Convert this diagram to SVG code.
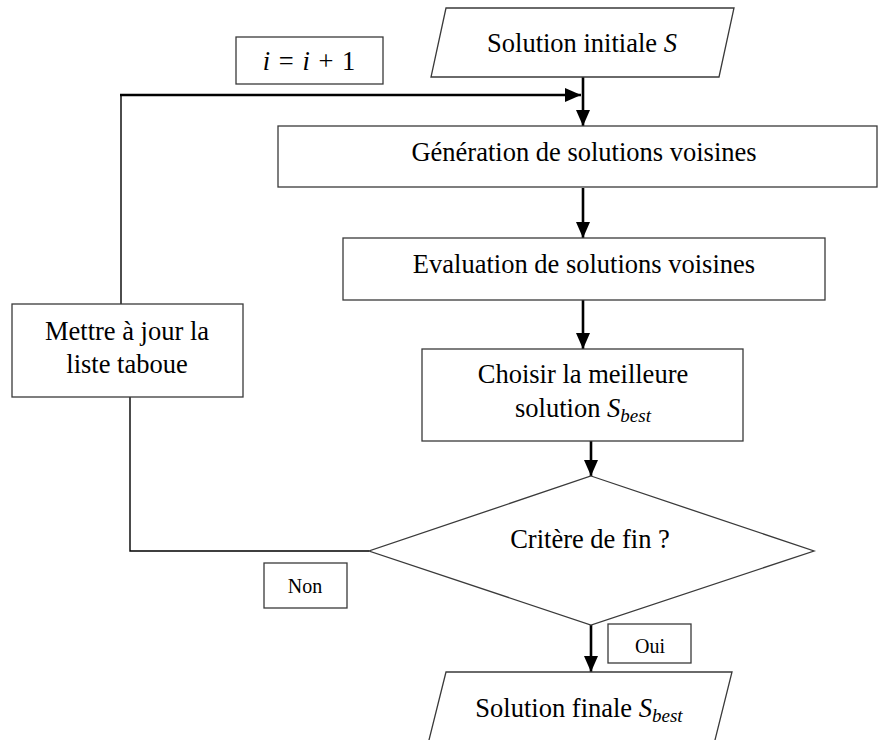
<svg xmlns="http://www.w3.org/2000/svg" width="878" height="740" viewBox="0 0 878 740">
  <style>
    .box { fill: #ffffff; stroke: #3a3a3a; stroke-width: 1.3; }
    .lbl { font-family: "Liberation Serif", "Times New Roman", serif; font-size: 26.5px; fill: #000; text-anchor: middle; }
    .small { font-size: 20px; }
    .m { font-style: italic; }
    .sub { font-style: italic; font-size: 19px; }
    .wire { fill: none; stroke: #000; stroke-width: 1.4; }
    .flow { fill: none; stroke: #000; stroke-width: 2.6; }
  </style>
  <defs>
    <marker id="head" viewBox="0 0 16 14" markerWidth="16" markerHeight="14" refX="16" refY="7" orient="auto" markerUnits="userSpaceOnUse">
      <path d="M0,0 L16,7 L0,14 z" fill="#000"/>
    </marker>
  </defs>
  <rect width="878" height="740" fill="#ffffff"/>

  <!-- connectors -->
  <g id="connectors">
    <line class="flow" x1="583" y1="77" x2="583" y2="126" marker-end="url(#head)"/>
    <line class="flow" x1="583" y1="188" x2="583" y2="238" marker-end="url(#head)"/>
    <line class="flow" x1="583" y1="300" x2="583" y2="349" marker-end="url(#head)"/>
    <line class="flow" x1="591" y1="441" x2="591" y2="476" marker-end="url(#head)"/>
    <line class="flow" x1="591" y1="625" x2="591" y2="672" marker-end="url(#head)"/>
    <!-- loop back: diamond -> update list -> regenerate -->
    <polyline class="wire" points="369,551 130,551 130,397"/>
    <line class="wire" x1="121" y1="304" x2="121" y2="95"/>
    <line class="flow" x1="120" y1="95" x2="581" y2="95" marker-end="url(#head)"/>
  </g>

  <g id="start">
    <polygon class="box" points="446,8 734,8 719,77 431,77"/>
    <text class="lbl" x="582" y="52">Solution initiale <tspan class="m">S</tspan></text>
  </g>

  <g id="increment">
    <rect class="box" x="236" y="37" width="147" height="47"/>
    <text class="lbl" x="309" y="70" word-spacing="2"><tspan class="m">i</tspan> = <tspan class="m">i</tspan> + 1</text>
  </g>

  <g id="generate">
    <rect class="box" x="278" y="126" width="599" height="61"/>
    <text class="lbl" x="584" y="161">Génération de solutions voisines</text>
  </g>

  <g id="evaluate">
    <rect class="box" x="343" y="238" width="482" height="62"/>
    <text class="lbl" x="584" y="273">Evaluation de solutions voisines</text>
  </g>

  <g id="choose">
    <rect class="box" x="422" y="349" width="321" height="92"/>
    <text class="lbl" x="583" y="383">Choisir la meilleure</text>
    <text class="lbl" x="583" y="417">solution <tspan class="m">S</tspan><tspan class="sub" dy="5">best</tspan></text>
  </g>

  <g id="update">
    <rect class="box" x="12" y="304" width="231" height="93"/>
    <text class="lbl" x="127" y="340">Mettre à jour la</text>
    <text class="lbl" x="127" y="373">liste taboue</text>
  </g>

  <g id="stop-test">
    <polygon class="box" points="591,476 814,551 591,625 369,551"/>
    <text class="lbl" x="590" y="548">Critère de fin ?</text>
  </g>

  <g id="label-no">
    <rect class="box" x="264" y="563" width="83" height="45"/>
    <text class="lbl small" x="305" y="593">Non</text>
  </g>

  <g id="label-yes">
    <rect class="box" x="608" y="624" width="83" height="39"/>
    <text class="lbl small" x="650" y="653">Oui</text>
  </g>

  <g id="end">
    <polygon class="box" points="446,672 732,672 712,752 426,752"/>
    <text class="lbl" x="579" y="717">Solution finale <tspan class="m">S</tspan><tspan class="sub" dy="5">best</tspan></text>
  </g>
</svg>
